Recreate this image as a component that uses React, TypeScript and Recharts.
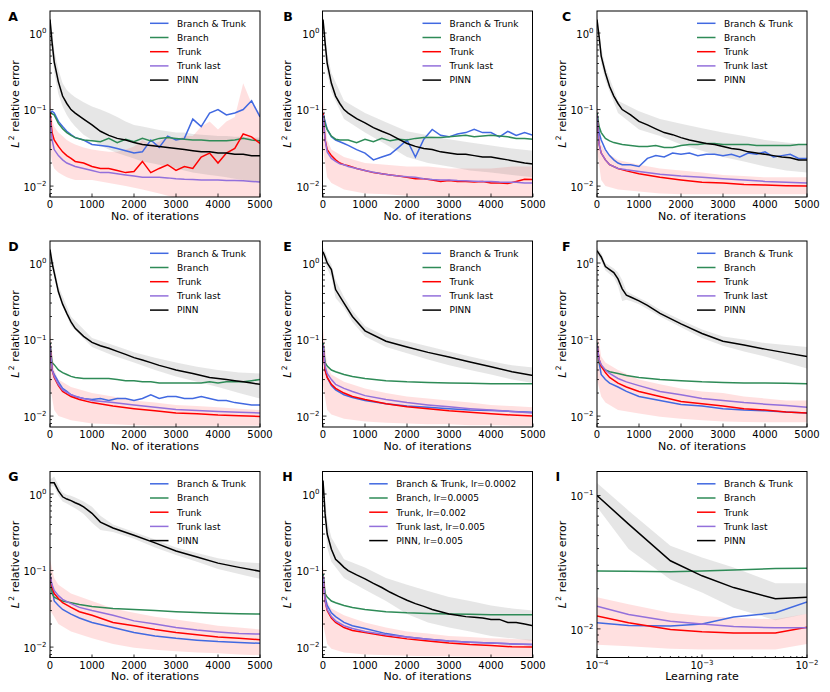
import { ComposedChart, Line, Area, XAxis, YAxis } from "recharts";

const FONT = '"DejaVu Sans", sans-serif';
// Branch & Trunk, Branch, Trunk, Trunk last, PINN
const SERIES_COLORS = ["#4169e1", "#2e8b57", "#ff0000", "#9370db", "#000000"];

const LABELS = ["Branch & Trunk", "Branch", "Trunk", "Trunk last", "PINN"];
const LABELS_H = [
  "Branch & Trunk, lr=0.0002",
  "Branch, lr=0.0005",
  "Trunk, lr=0.002",
  "Trunk last, lr=0.005",
  "PINN, lr=0.005",
];

const ITER_TICKS = [0, 1000, 2000, 3000, 4000, 5000];
const ITER_Y_TICKS = [
  0.008, 0.009, 0.01, 0.02, 0.03, 0.04, 0.05, 0.06, 0.07, 0.08, 0.09, 0.1, 0.2, 0.3, 0.4, 0.5, 0.6,
  0.7, 0.8, 0.9, 1,
];
const LR_TICKS = [
  0.0001, 0.0002, 0.0003, 0.0004, 0.0005, 0.0006, 0.0007, 0.0008, 0.0009, 0.001, 0.002, 0.003,
  0.004, 0.005, 0.006, 0.007, 0.008, 0.009, 0.01,
];
const LR_Y_TICKS = [0.007, 0.008, 0.009, 0.01, 0.02, 0.03, 0.04, 0.05, 0.06, 0.07, 0.08, 0.09, 0.1];

// iteration grids
const ITER_FINE = [
  0, 50, 100, 200, 300, 400, 500, 600, 800, 1000,
  1200, 1400, 1600, 1800, 2000, 2200, 2400, 2600, 2800, 3000,
  3200, 3400, 3600, 3800, 4000, 4200, 4400, 4600, 4800, 5000,
];
const ITER_SMOOTH = [0, 50, 100, 200, 300, 500, 700, 1000, 1500, 2000, 2500, 3000, 3500, 4000, 4500, 5000];
const ITER_BAND = [0, 100, 200, 500, 1000, 1500, 2000, 2500, 3000, 3500, 4000, 4500, 5000];
const ITER_SLOW = [0, 100, 200, 300, 400, 500, 600, 700, 800, 1000, 1200, 1500, 2000, 2500, 3000, 3500, 4000, 4500, 5000];
const LR = [0.0001, 0.0002, 0.0005, 0.001, 0.002, 0.005, 0.01];

// ---- A ----
const A_BT = [
  0.09, 0.095, 0.09, 0.07, 0.06, 0.052, 0.047, 0.043, 0.04, 0.035,
  0.034, 0.033, 0.031, 0.029, 0.027, 0.028, 0.04, 0.032, 0.045, 0.04,
  0.042, 0.075, 0.06, 0.09, 0.1, 0.085, 0.09, 0.1, 0.13, 0.08,
];
const A_BR = [
  0.09, 0.088, 0.085, 0.066, 0.056, 0.05, 0.046, 0.043, 0.04, 0.039,
  0.038, 0.042, 0.037, 0.041, 0.038, 0.042, 0.039, 0.042, 0.043, 0.042,
  0.041, 0.04, 0.04, 0.039, 0.039, 0.039, 0.04, 0.042, 0.04, 0.039,
];
const A_TR = [
  0.09, 0.05, 0.04, 0.033, 0.028, 0.025, 0.023, 0.021, 0.02, 0.018,
  0.017, 0.017, 0.016, 0.015, 0.0155, 0.021, 0.015, 0.017, 0.019, 0.016,
  0.018, 0.017, 0.024, 0.027, 0.02, 0.027, 0.031, 0.048, 0.044, 0.036,
];
const A_TL = [
  0.08, 0.04, 0.03, 0.025, 0.022, 0.02, 0.019, 0.018, 0.017, 0.016,
  0.015, 0.015, 0.0145, 0.014, 0.0135, 0.013, 0.013, 0.013, 0.0128, 0.0125,
  0.0123, 0.0122, 0.012, 0.012, 0.012, 0.0118, 0.0118, 0.0117, 0.0115, 0.0113,
];
const A_PINN = [
  1.5, 0.75, 0.42, 0.23, 0.15, 0.12, 0.1, 0.09, 0.075, 0.063,
  0.052, 0.046, 0.042, 0.04, 0.037, 0.035, 0.034, 0.033, 0.032, 0.031,
  0.03, 0.029, 0.028, 0.028, 0.027, 0.027, 0.026, 0.026, 0.025, 0.025,
];
const A_PINN_LO = [
  1.2, 0.55, 0.3, 0.16, 0.11, 0.085, 0.07, 0.06, 0.047, 0.04,
  0.034, 0.03, 0.027, 0.025, 0.023, 0.021, 0.02, 0.019, 0.018, 0.017,
  0.016, 0.015, 0.0145, 0.014, 0.0135, 0.013, 0.0125, 0.012, 0.0115, 0.011,
];
const A_PINN_HI = [
  1.8, 1.0, 0.6, 0.33, 0.22, 0.18, 0.16, 0.145, 0.125, 0.11,
  0.1, 0.09, 0.08, 0.07, 0.063, 0.06, 0.057, 0.054, 0.052, 0.05,
  0.05, 0.048, 0.047, 0.046, 0.045, 0.045, 0.044, 0.044, 0.043, 0.043,
];
const A_TR_LO = [
  0.03, 0.02, 0.017, 0.015, 0.014, 0.013, 0.0125, 0.012, 0.012, 0.012,
  0.0115, 0.011, 0.0105, 0.01, 0.0095, 0.009, 0.0085, 0.008, 0.0075, 0.007,
  0.0068, 0.0066, 0.0064, 0.0062, 0.006, 0.006, 0.006, 0.006, 0.006, 0.006,
];
const A_TR_HI = [
  0.15, 0.075, 0.06, 0.05, 0.045, 0.04, 0.037, 0.035, 0.032, 0.03,
  0.029, 0.028, 0.028, 0.03, 0.033, 0.04, 0.035, 0.038, 0.045, 0.04,
  0.045, 0.045, 0.06, 0.07, 0.055, 0.07, 0.08, 0.22, 0.12, 0.09,
];

// ---- B ----
const B_BT = [
  0.09, 0.07, 0.055, 0.044, 0.04, 0.038, 0.036, 0.034, 0.03, 0.027,
  0.022, 0.024, 0.026, 0.032, 0.04, 0.024, 0.041, 0.055, 0.046, 0.044,
  0.048, 0.05, 0.055, 0.05, 0.05, 0.044, 0.052, 0.046, 0.05, 0.046,
];
const B_BR = [
  0.09, 0.065, 0.055, 0.045, 0.041, 0.04, 0.04, 0.04, 0.037, 0.041,
  0.038, 0.042, 0.039, 0.041, 0.04, 0.042, 0.043, 0.043, 0.043, 0.044,
  0.045, 0.046, 0.044, 0.045, 0.046, 0.045, 0.044, 0.042, 0.042, 0.041,
];
const B_TR = [
  0.09, 0.04, 0.03, 0.025, 0.022, 0.02, 0.019, 0.0185, 0.017, 0.016,
  0.015, 0.0145, 0.014, 0.0135, 0.013, 0.0125, 0.0125, 0.012, 0.0115, 0.0118,
  0.0115, 0.0115, 0.0113, 0.0115, 0.011, 0.011, 0.0108, 0.0115, 0.0123, 0.0122,
];
const B_TL = [
  0.085, 0.04, 0.028, 0.023, 0.021, 0.0195, 0.019, 0.018, 0.017, 0.016,
  0.0152, 0.0145, 0.014, 0.0135, 0.0132, 0.013, 0.0125, 0.0122, 0.012, 0.012,
  0.0118, 0.0117, 0.0116, 0.0115, 0.0115, 0.0113, 0.0112, 0.0112, 0.011, 0.011,
];
const B_PINN = [
  1.5, 0.75, 0.4, 0.22, 0.15, 0.12, 0.1, 0.09, 0.076, 0.067,
  0.058, 0.052, 0.047, 0.041, 0.036, 0.033, 0.031, 0.03, 0.028, 0.027,
  0.026, 0.026, 0.025, 0.024, 0.024, 0.023, 0.022, 0.021, 0.02, 0.0195,
];
const B_PINN_LO = [1.2, 0.3, 0.17, 0.075, 0.05, 0.035, 0.024, 0.02, 0.018, 0.016, 0.015, 0.014, 0.013];
const B_PINN_HI = [1.8, 0.55, 0.3, 0.13, 0.09, 0.068, 0.052, 0.046, 0.041, 0.037, 0.034, 0.031, 0.029];
const B_TR_LO = [0.03, 0.013, 0.011, 0.009, 0.008, 0.0078, 0.0075, 0.0074, 0.0073, 0.0072, 0.0072, 0.0072, 0.0072];
const B_TR_HI = [0.14, 0.04, 0.03, 0.024, 0.02, 0.019, 0.018, 0.018, 0.017, 0.017, 0.017, 0.018, 0.018];

// ---- C ----
const C_BT = [
  0.09, 0.05, 0.04, 0.03, 0.025, 0.022, 0.02, 0.019, 0.019, 0.018,
  0.023, 0.025, 0.024, 0.027, 0.026, 0.027, 0.025, 0.026, 0.026, 0.025,
  0.026, 0.024, 0.027, 0.026, 0.028, 0.024, 0.025, 0.026, 0.023, 0.023,
];
const C_BR = [
  0.09, 0.06, 0.05, 0.042, 0.039, 0.037, 0.036, 0.035, 0.034, 0.033,
  0.033, 0.034, 0.032, 0.032, 0.034, 0.035, 0.035, 0.036, 0.036, 0.035,
  0.035, 0.035, 0.035, 0.034, 0.034, 0.034, 0.034, 0.034, 0.035, 0.035,
];
const C_TR = [0.085, 0.035, 0.027, 0.022, 0.019, 0.017, 0.0158, 0.0145, 0.013, 0.012, 0.0112, 0.011, 0.0105, 0.0103, 0.0101, 0.01];
const C_TL = [0.085, 0.035, 0.027, 0.022, 0.019, 0.017, 0.0163, 0.0155, 0.0143, 0.0135, 0.013, 0.0125, 0.012, 0.0115, 0.0112, 0.011];
const C_PINN = [
  1.5, 0.9, 0.5, 0.3, 0.2, 0.15, 0.12, 0.1, 0.085, 0.07,
  0.063, 0.056, 0.05, 0.047, 0.043, 0.04, 0.038, 0.036, 0.035, 0.033,
  0.031, 0.03, 0.028, 0.027, 0.026, 0.025, 0.024, 0.0235, 0.022, 0.022,
];
const C_PINN_LO = [1.2, 0.4, 0.24, 0.09, 0.055, 0.045, 0.035, 0.029, 0.024, 0.021, 0.018, 0.016, 0.015];
const C_PINN_HI = [1.8, 0.65, 0.36, 0.13, 0.095, 0.075, 0.065, 0.057, 0.05, 0.045, 0.04, 0.037, 0.035];
const C_TR_LO = [0.03, 0.012, 0.01, 0.009, 0.0085, 0.008, 0.0078, 0.0078, 0.0078, 0.0078, 0.0078, 0.0078, 0.0078];
const C_TR_HI = [0.12, 0.035, 0.028, 0.022, 0.019, 0.017, 0.016, 0.015, 0.014, 0.0135, 0.013, 0.013, 0.013];

// ---- D ----
const D_BT = [
  0.09, 0.04, 0.035, 0.028, 0.023, 0.021, 0.019, 0.018, 0.017, 0.0165,
  0.017, 0.016, 0.017, 0.017, 0.016, 0.017, 0.019, 0.017, 0.018, 0.018,
  0.017, 0.017, 0.018, 0.017, 0.016, 0.016, 0.015, 0.0145, 0.014, 0.014,
];
const D_BR = [
  0.09, 0.05, 0.047, 0.04, 0.037, 0.035, 0.033, 0.032, 0.031, 0.031,
  0.031, 0.031, 0.03, 0.029, 0.029, 0.028, 0.028, 0.027, 0.027, 0.027,
  0.027, 0.027, 0.027, 0.028, 0.027, 0.028, 0.028, 0.028, 0.029, 0.03,
];
const D_TR = [0.085, 0.04, 0.032, 0.025, 0.021, 0.018, 0.0165, 0.015, 0.0135, 0.0125, 0.0117, 0.011, 0.0107, 0.0103, 0.0101, 0.0099];
const D_TL = [0.085, 0.04, 0.033, 0.026, 0.022, 0.019, 0.0175, 0.016, 0.015, 0.014, 0.013, 0.0122, 0.0118, 0.0115, 0.0112, 0.011];
const D_PINN = [
  1.5, 1.0, 0.75, 0.42, 0.29, 0.22, 0.17, 0.14, 0.11, 0.092,
  0.083, 0.077, 0.07, 0.064, 0.058, 0.054, 0.05, 0.046, 0.043, 0.04,
  0.038, 0.036, 0.034, 0.032, 0.031, 0.03, 0.029, 0.028, 0.027, 0.026,
];
const D_PINN_LO = [1.3, 0.65, 0.38, 0.15, 0.08, 0.062, 0.05, 0.04, 0.033, 0.028, 0.024, 0.02, 0.017];
const D_PINN_HI = [1.7, 0.9, 0.5, 0.2, 0.105, 0.085, 0.068, 0.058, 0.05, 0.044, 0.04, 0.037, 0.036];
const D_TR_LO = [0.025, 0.012, 0.01, 0.0088, 0.008, 0.0078, 0.0076, 0.0075, 0.0075, 0.0075, 0.0075, 0.0075, 0.0075];
const D_TR_HI = [0.13, 0.04, 0.03, 0.024, 0.02, 0.018, 0.016, 0.015, 0.014, 0.0135, 0.013, 0.0125, 0.012];

// ---- E ----
const E_BT = [0.09, 0.04, 0.032, 0.025, 0.022, 0.019, 0.0175, 0.016, 0.0145, 0.0135, 0.013, 0.0125, 0.012, 0.0118, 0.0115, 0.0112];
const E_BR = [0.09, 0.05, 0.045, 0.04, 0.038, 0.035, 0.033, 0.031, 0.029, 0.028, 0.0275, 0.027, 0.0268, 0.0265, 0.0265, 0.0265];
const E_TR = [0.085, 0.04, 0.032, 0.026, 0.023, 0.02, 0.018, 0.0165, 0.0145, 0.0132, 0.0125, 0.0117, 0.0112, 0.0107, 0.0103, 0.01];
const E_TL = [0.085, 0.045, 0.036, 0.03, 0.026, 0.023, 0.021, 0.0185, 0.0165, 0.015, 0.014, 0.0132, 0.0125, 0.012, 0.0115, 0.011];
const E_PINN = [1.4, 1.2, 1.0, 0.82, 0.45, 0.3, 0.2, 0.13, 0.095, 0.08, 0.068, 0.059, 0.051, 0.044, 0.038, 0.034];
const E_PINN_LO = [1.2, 1.0, 0.85, 0.65, 0.35, 0.26, 0.17, 0.11, 0.08, 0.066, 0.055, 0.046, 0.04, 0.035, 0.03, 0.027];
const E_PINN_HI = [1.6, 1.4, 1.2, 0.95, 0.6, 0.36, 0.24, 0.15, 0.11, 0.095, 0.082, 0.07, 0.06, 0.052, 0.046, 0.043];
const E_TR_LO = [0.025, 0.012, 0.0105, 0.0092, 0.0085, 0.0082, 0.008, 0.0078, 0.0078, 0.0076, 0.0076, 0.0075, 0.0075];
const E_TR_HI = [0.14, 0.045, 0.035, 0.028, 0.023, 0.02, 0.018, 0.017, 0.016, 0.015, 0.014, 0.0135, 0.013];

// ---- F ----
const F_BT = [0.09, 0.05, 0.035, 0.03, 0.027, 0.024, 0.021, 0.018, 0.016, 0.0142, 0.0135, 0.0125, 0.012, 0.0117, 0.0113, 0.011];
const F_BR = [0.09, 0.05, 0.045, 0.04, 0.038, 0.036, 0.034, 0.032, 0.03, 0.029, 0.028, 0.0275, 0.027, 0.027, 0.0268, 0.0265];
const F_TR = [0.085, 0.055, 0.045, 0.037, 0.032, 0.027, 0.024, 0.021, 0.018, 0.0155, 0.0145, 0.0135, 0.0125, 0.012, 0.0113, 0.011];
const F_TL = [0.085, 0.055, 0.047, 0.04, 0.036, 0.031, 0.028, 0.025, 0.021, 0.019, 0.017, 0.016, 0.015, 0.0143, 0.0137, 0.013];
const F_PINN = [1.45, 1.2, 0.9, 0.82, 0.75, 0.62, 0.46, 0.38, 0.36, 0.32, 0.28, 0.22, 0.16, 0.12, 0.095, 0.085, 0.075, 0.067, 0.06];
const F_PINN_LO = [1.3, 1.05, 0.8, 0.72, 0.65, 0.5, 0.32, 0.33, 0.32, 0.29, 0.25, 0.2, 0.145, 0.105, 0.083, 0.07, 0.06, 0.05, 0.042];
const F_PINN_HI = [1.6, 1.35, 1.0, 0.92, 0.85, 0.75, 0.6, 0.43, 0.4, 0.35, 0.31, 0.245, 0.18, 0.135, 0.11, 0.1, 0.09, 0.085, 0.08];
const F_TR_LO = [0.03, 0.018, 0.015, 0.012, 0.0108, 0.0098, 0.0092, 0.0088, 0.0085, 0.0084, 0.0083, 0.0083, 0.0083];
const F_TR_HI = [0.14, 0.06, 0.05, 0.04, 0.03, 0.026, 0.023, 0.021, 0.02, 0.018, 0.017, 0.016, 0.016];

// ---- G ----
const G_BT = [0.09, 0.06, 0.04, 0.035, 0.031, 0.027, 0.024, 0.021, 0.018, 0.0155, 0.014, 0.013, 0.0123, 0.0118, 0.0115, 0.0112];
const G_BR = [0.09, 0.05, 0.045, 0.042, 0.04, 0.038, 0.036, 0.034, 0.032, 0.031, 0.03, 0.029, 0.0283, 0.0277, 0.0273, 0.027];
const G_TR = [0.085, 0.06, 0.05, 0.043, 0.038, 0.033, 0.029, 0.026, 0.021, 0.019, 0.017, 0.0155, 0.0145, 0.0135, 0.013, 0.0125];
const G_TL = [0.085, 0.065, 0.055, 0.047, 0.042, 0.037, 0.033, 0.03, 0.026, 0.022, 0.02, 0.018, 0.0167, 0.0158, 0.015, 0.0148];
const G_PINN = [1.4, 1.4, 1.1, 0.92, 0.86, 0.82, 0.77, 0.73, 0.68, 0.56, 0.43, 0.36, 0.29, 0.23, 0.18, 0.15, 0.125, 0.11, 0.098];
const G_PINN_LO = [1.25, 1.25, 0.95, 0.8, 0.75, 0.7, 0.65, 0.6, 0.55, 0.42, 0.34, 0.32, 0.26, 0.2, 0.16, 0.13, 0.105, 0.09, 0.078];
const G_PINN_HI = [1.55, 1.7, 1.3, 1.05, 0.98, 0.95, 0.9, 0.85, 0.8, 0.68, 0.52, 0.4, 0.32, 0.255, 0.2, 0.17, 0.145, 0.13, 0.125];
const G_TR_LO = [0.03, 0.025, 0.02, 0.016, 0.013, 0.011, 0.0098, 0.0092, 0.0088, 0.0085, 0.0083, 0.008, 0.0078];
const G_TR_HI = [0.14, 0.08, 0.065, 0.05, 0.04, 0.032, 0.028, 0.025, 0.023, 0.021, 0.019, 0.018, 0.017];

// ---- H ----
const H_BT = [0.09, 0.045, 0.035, 0.028, 0.025, 0.021, 0.019, 0.0175, 0.015, 0.0135, 0.0127, 0.012, 0.0116, 0.0113, 0.011, 0.0108];
const H_BR = [0.09, 0.05, 0.045, 0.04, 0.038, 0.035, 0.033, 0.031, 0.029, 0.028, 0.0275, 0.027, 0.0268, 0.0265, 0.0265, 0.0265];
const H_TR = [0.085, 0.04, 0.03, 0.024, 0.021, 0.018, 0.0165, 0.0155, 0.014, 0.0128, 0.012, 0.0113, 0.0108, 0.0105, 0.0101, 0.01];
const H_TL = [0.085, 0.04, 0.031, 0.025, 0.022, 0.019, 0.0175, 0.016, 0.0145, 0.0135, 0.0127, 0.012, 0.0116, 0.0113, 0.011, 0.0108];
const H_PINN = [
  1.5, 0.55, 0.3, 0.19, 0.14, 0.125, 0.11, 0.1, 0.088, 0.078,
  0.068, 0.06, 0.052, 0.046, 0.041, 0.037, 0.034, 0.031, 0.029, 0.027,
  0.026, 0.025, 0.0245, 0.024, 0.023, 0.023, 0.021, 0.021, 0.02, 0.019,
];
const H_PINN_LO = [1.2, 0.2, 0.13, 0.08, 0.056, 0.04, 0.027, 0.021, 0.018, 0.016, 0.014, 0.013, 0.012];
const H_PINN_HI = [1.8, 0.45, 0.27, 0.14, 0.11, 0.08, 0.065, 0.054, 0.045, 0.04, 0.035, 0.032, 0.03];
const H_TR_LO = [0.02, 0.011, 0.0095, 0.0085, 0.008, 0.0078, 0.0077, 0.0076, 0.0076, 0.0075, 0.0075, 0.0075, 0.0075];
const H_TR_HI = [0.12, 0.04, 0.032, 0.026, 0.021, 0.018, 0.016, 0.015, 0.014, 0.0135, 0.013, 0.0128, 0.0125];

// ---- I (vs learning rate) ----
const I_BT = [0.0111, 0.0106, 0.0105, 0.0109, 0.0123, 0.0132, 0.0159];
const I_BR = [0.0272, 0.027, 0.0268, 0.0272, 0.0276, 0.0283, 0.0285];
const I_TR = [0.0125, 0.0111, 0.0099, 0.0095, 0.0093, 0.0093, 0.0103];
const I_TL = [0.0148, 0.0128, 0.0114, 0.0109, 0.0104, 0.0102, 0.0102];
const I_PINN = [0.1, 0.061, 0.0324, 0.025, 0.0204, 0.0168, 0.0173];
const I_PINN_LO = [0.082, 0.0397, 0.0235, 0.0187, 0.0144, 0.0116, 0.013];
const I_PINN_HI = [0.124, 0.077, 0.042, 0.0343, 0.0288, 0.022, 0.022];
const I_TR_LO = [0.0076, 0.0074, 0.0071, 0.007, 0.007, 0.007, 0.0077];
const I_TR_HI = [0.0173, 0.0153, 0.0132, 0.0125, 0.0121, 0.0118, 0.013];

const COL_LEFT = [50, 322.5, 597];
const ROW_TOP = [11, 241, 471.5];
const PW = 210;
const PH = 186;

const pts = (xs: number[], ys: number[]) => xs.map((x, i) => ({ x, v: ys[i] }));
const band = (xs: number[], lo: number[], hi: number[]) => xs.map((x, i) => ({ x, v: [lo[i], hi[i]] }));

const PANELS = [
  { letter: "A", col: 0, row: 0, letterX: 8.3,
    lines: [pts(ITER_FINE, A_BT), pts(ITER_FINE, A_BR), pts(ITER_FINE, A_TR), pts(ITER_FINE, A_TL), pts(ITER_FINE, A_PINN)],
    pinnBand: band(ITER_FINE, A_PINN_LO, A_PINN_HI), trBand: band(ITER_FINE, A_TR_LO, A_TR_HI) },
  { letter: "B", col: 1, row: 0, letterX: 283.3,
    lines: [pts(ITER_FINE, B_BT), pts(ITER_FINE, B_BR), pts(ITER_FINE, B_TR), pts(ITER_FINE, B_TL), pts(ITER_FINE, B_PINN)],
    pinnBand: band(ITER_BAND, B_PINN_LO, B_PINN_HI), trBand: band(ITER_BAND, B_TR_LO, B_TR_HI) },
  { letter: "C", col: 2, row: 0, letterX: 562,
    lines: [pts(ITER_FINE, C_BT), pts(ITER_FINE, C_BR), pts(ITER_SMOOTH, C_TR), pts(ITER_SMOOTH, C_TL), pts(ITER_FINE, C_PINN)],
    pinnBand: band(ITER_BAND, C_PINN_LO, C_PINN_HI), trBand: band(ITER_BAND, C_TR_LO, C_TR_HI) },
  { letter: "D", col: 0, row: 1, letterX: 8.3,
    lines: [pts(ITER_FINE, D_BT), pts(ITER_FINE, D_BR), pts(ITER_SMOOTH, D_TR), pts(ITER_SMOOTH, D_TL), pts(ITER_FINE, D_PINN)],
    pinnBand: band(ITER_BAND, D_PINN_LO, D_PINN_HI), trBand: band(ITER_BAND, D_TR_LO, D_TR_HI) },
  { letter: "E", col: 1, row: 1, letterX: 283.3,
    lines: [pts(ITER_SMOOTH, E_BT), pts(ITER_SMOOTH, E_BR), pts(ITER_SMOOTH, E_TR), pts(ITER_SMOOTH, E_TL), pts(ITER_SMOOTH, E_PINN)],
    pinnBand: band(ITER_SMOOTH, E_PINN_LO, E_PINN_HI), trBand: band(ITER_BAND, E_TR_LO, E_TR_HI) },
  { letter: "F", col: 2, row: 1, letterX: 562,
    lines: [pts(ITER_SMOOTH, F_BT), pts(ITER_SMOOTH, F_BR), pts(ITER_SMOOTH, F_TR), pts(ITER_SMOOTH, F_TL), pts(ITER_SLOW, F_PINN)],
    pinnBand: band(ITER_SLOW, F_PINN_LO, F_PINN_HI), trBand: band(ITER_BAND, F_TR_LO, F_TR_HI) },
  { letter: "G", col: 0, row: 2, letterX: 8.3,
    lines: [pts(ITER_SMOOTH, G_BT), pts(ITER_SMOOTH, G_BR), pts(ITER_SMOOTH, G_TR), pts(ITER_SMOOTH, G_TL), pts(ITER_SLOW, G_PINN)],
    pinnBand: band(ITER_SLOW, G_PINN_LO, G_PINN_HI), trBand: band(ITER_BAND, G_TR_LO, G_TR_HI) },
  { letter: "H", col: 1, row: 2, letterX: 282.3, legendX: 46.7, labels: LABELS_H,
    lines: [pts(ITER_SMOOTH, H_BT), pts(ITER_SMOOTH, H_BR), pts(ITER_SMOOTH, H_TR), pts(ITER_SMOOTH, H_TL), pts(ITER_FINE, H_PINN)],
    pinnBand: band(ITER_BAND, H_PINN_LO, H_PINN_HI), trBand: band(ITER_BAND, H_TR_LO, H_TR_HI) },
  { letter: "I", col: 2, row: 2, letterX: 555.5, isLR: true,
    lines: [pts(LR, I_BT), pts(LR, I_BR), pts(LR, I_TR), pts(LR, I_TL), pts(LR, I_PINN)],
    pinnBand: band(LR, I_PINN_LO, I_PINN_HI), trBand: band(LR, I_TR_LO, I_TR_HI) },
];

const isMajor = (v: number) => Math.abs(Math.log10(v) - Math.round(Math.log10(v))) < 1e-6;
const expText = (v: number) => {
  const e = Math.round(Math.log10(v));
  return e < 0 ? `\u2212${-e}` : `${e}`;
};

const YTick = (props: any) => {
  const { x, y, payload } = props;
  const major = isMajor(payload.value);
  return (
    <g>
      <line x1={x} x2={x + (major ? 3.5 : 2)} y1={y} y2={y} stroke="#000" strokeWidth={0.8} />
      {major && (
        <text x={x - 3.5} y={y + 4.7} textAnchor="end" fontSize={10} fontFamily={FONT} fill="#000">
          10<tspan dy={-4.7} fontSize={7}>{expText(payload.value)}</tspan>
        </text>
      )}
    </g>
  );
};

const IterTick = (props: any) => {
  const { x, y, payload } = props;
  return (
    <g>
      <line x1={x} x2={x} y1={y} y2={y - 3.5} stroke="#000" strokeWidth={0.8} />
      <text x={x} y={y + 10.5} textAnchor="middle" fontSize={10} fontFamily={FONT} fill="#000">
        {payload.value}
      </text>
    </g>
  );
};

const LrTick = (props: any) => {
  const { x, y, payload } = props;
  const major = isMajor(payload.value);
  return (
    <g>
      <line x1={x} x2={x} y1={y} y2={y - (major ? 3.5 : 2)} stroke="#000" strokeWidth={0.8} />
      {major && (
        <text x={x} y={y + 11} textAnchor="middle" fontSize={10} fontFamily={FONT} fill="#000">
          10<tspan dy={-4.5} fontSize={7}>{expText(payload.value)}</tspan>
        </text>
      )}
    </g>
  );
};

function Panel({ p }: { p: any }) {
  const L = COL_LEFT[p.col];
  const T = ROW_TOP[p.row];
  return (
    <div style={{ position: "absolute", left: L - 50, top: T - 10 }}>
      <ComposedChart width={290} height={230} margin={{ top: 10, right: 30, bottom: 0, left: 0 }}>
        {p.isLR ? (
          <XAxis
            type="number"
            dataKey="x"
            scale="log"
            domain={[0.0001, 0.01]}
            ticks={LR_TICKS}
            interval={0}
            tick={LrTick}
            tickLine={false}
            axisLine={false}
            tickSize={0}
            tickMargin={0}
            height={34}
            allowDataOverflow
          />
        ) : (
          <XAxis
            type="number"
            dataKey="x"
            domain={[0, 5000]}
            ticks={ITER_TICKS}
            interval={0}
            tick={IterTick}
            tickLine={false}
            axisLine={false}
            tickSize={0}
            tickMargin={0}
            height={34}
            allowDataOverflow
          />
        )}
        <YAxis
          type="number"
          scale="log"
          domain={p.isLR ? [0.00605, 0.15] : [0.0072, 1.94]}
          ticks={p.isLR ? LR_Y_TICKS : ITER_Y_TICKS}
          interval={0}
          tick={YTick}
          tickLine={false}
          axisLine={false}
          tickSize={0}
          tickMargin={0}
          width={50}
          allowDataOverflow
        />
        <Area data={p.trBand} dataKey="v" type="linear" stroke="none" fill="#ff0000" fillOpacity={0.12}
          isAnimationActive={false} activeDot={false} />
        <Area data={p.pinnBand} dataKey="v" type="linear" stroke="none" fill="#808080" fillOpacity={0.2}
          isAnimationActive={false} activeDot={false} />
        {p.lines.map((d: any, i: number) => (
          <Line key={i} data={d} dataKey="v" type="linear" stroke={SERIES_COLORS[i]} strokeWidth={1.5}
            dot={false} activeDot={false} isAnimationActive={false} />
        ))}
      </ComposedChart>
    </div>
  );
}

function Overlay() {
  return (
    <svg width={830} height={692} style={{ position: "absolute", left: 0, top: 0, pointerEvents: "none" }}>
      {PANELS.map((p: any) => {
        const L = COL_LEFT[p.col];
        const T = ROW_TOP[p.row];
        const lx = p.legendX ?? 100;
        const labels = p.labels ?? LABELS;
        return (
          <g key={p.letter} fontFamily={FONT} fill="#000">
            <rect x={L} y={T} width={PW} height={PH} fill="none" stroke="#000" strokeWidth={1} />
            <text x={p.letterX} y={T + 9.7} fontSize={12.5} fontWeight="bold">{p.letter}</text>
            <text transform={`translate(${L - 31.5},${T + PH / 2}) rotate(-90)`} textAnchor="middle" fontSize={11}>
              <tspan fontStyle="italic">L</tspan>
              <tspan dx={1.5} dy={-4.5} fontSize={7.5}>2</tspan>
              <tspan dy={4.5}> relative error</tspan>
            </text>
            <text x={L + PW / 2} y={T + PH + 22.5} textAnchor="middle" fontSize={11}>
              {p.isLR ? "Learning rate" : "No. of iterations"}
            </text>
            {labels.map((lab: string, i: number) => {
              const y = T + 12.3 + 14.2 * i;
              return (
                <g key={lab}>
                  <line x1={L + lx} x2={L + lx + 18.5} y1={y} y2={y} stroke={SERIES_COLORS[i]} strokeWidth={1.5} />
                  <text x={L + lx + 27} y={y + 3.3} fontSize={9}>{lab}</text>
                </g>
              );
            })}
          </g>
        );
      })}
    </svg>
  );
}

export default function App() {
  return (
    <div style={{ position: "absolute", left: 0, top: 0, width: 830, height: 692, background: "#fff", fontFamily: FONT }}>
      {PANELS.map((p) => (
        <Panel key={p.letter} p={p} />
      ))}
      <Overlay />
    </div>
  );
}
